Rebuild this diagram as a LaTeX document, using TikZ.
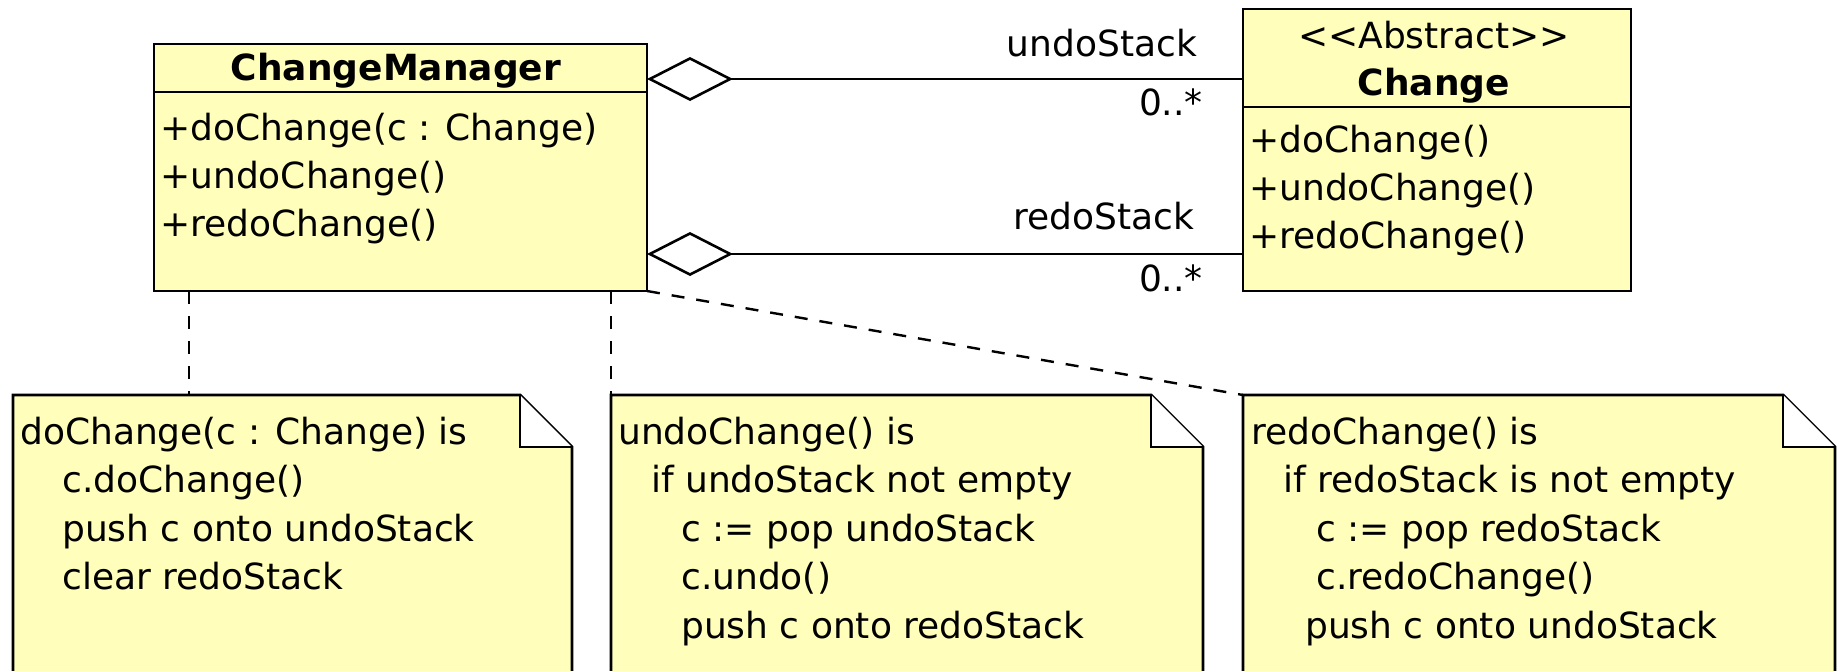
\documentclass[tikz,border=0pt]{standalone}
\usepackage{fontspec}
\setmainfont{DejaVu Sans}
\usetikzlibrary{arrows.meta}
\definecolor{umlyellow}{RGB}{255,255,187}
\tikzset{
  umlbox/.style={draw=black, line width=2.9pt, fill=umlyellow, anchor=north west,
                 inner sep=0pt, outer sep=0pt},
  notearea/.style={anchor=north west, inner sep=0pt, outer sep=0pt},
  notepath/.style={draw=black, fill=umlyellow, line width=2.9pt, line join=miter},
  foldpath/.style={draw=black, fill=white, line width=2.9pt},
  divider/.style={draw=black, line width=2.9pt},
  txt/.style={anchor=base west, inner sep=0pt, font=\fontsize{36}{48}\selectfont},
  ctxt/.style={anchor=base, inner sep=0pt, font=\fontsize{36}{48}\selectfont},
  rtxt/.style={anchor=base east, inner sep=0pt, font=\fontsize{36}{48}\selectfont},
  btxt/.style={anchor=base, inner sep=0pt, font=\fontsize{36}{48}\selectfont\bfseries},
  agg/.style={draw=black, line width=2.6pt,
              {Diamond[open, length=86pt, width=44pt, line width=2.6pt]}-},
  anchorline/.style={draw=black, line width=2.4pt, dash pattern=on 13pt off 12pt},
}
\begin{document}
\begin{tikzpicture}[x=1pt, y=-1pt]
\useasboundingbox (0,0) rectangle (1841,670);

% ---- class ChangeManager ----
\node[umlbox, minimum width=493pt, minimum height=247pt] (cm) at (154,44) {};
\draw[divider] ([yshift=-48pt]cm.north west) -- ([yshift=-48pt]cm.north east);
\node[btxt] (cmname) at (396,80) {ChangeManager};
\node[txt] (cmop1) at (160,140) {+doChange(c : Change)};
\node[txt] (cmop2) at (160,188) {+undoChange()};
\node[txt] (cmop3) at (160,236) {+redoChange()};

% ---- abstract class Change ----
\node[umlbox, minimum width=388pt, minimum height=282pt] (chg) at (1243,9) {};
\draw[divider] ([yshift=-98pt]chg.north west) -- ([yshift=-98pt]chg.north east);
\node[ctxt] (chgst) at (1434,48) {\mbox{<}\mbox{<}Abstract\mbox{>}\mbox{>}};
\node[btxt] (chgname) at (1434,95) {Change};
\node[txt] (chgop1) at (1249,152) {+doChange()};
\node[txt] (chgop2) at (1249,200) {+undoChange()};
\node[txt] (chgop3) at (1249,248) {+redoChange()};

% ---- aggregations ----
\draw[agg] ([yshift=-35pt]cm.north east) coordinate (uA) -- (uA -| chg.west) coordinate (uB);
\draw[agg] ([yshift=37pt]cm.south east) coordinate (rA) -- (rA -| chg.west) coordinate (rB);
\node[rtxt] (undolbl) at (1197,56) {undoStack};
\node[rtxt] (undomul) at (1203,115) {0..*};
\node[rtxt] (redolbl) at (1194,229) {redoStack};
\node[rtxt] (redomul) at (1203,291) {0..*};

% ---- notes ----
\node[notearea, minimum width=559pt, minimum height=300pt] (n1) at (13,395) {};
\node[notearea, minimum width=592pt, minimum height=300pt] (n2) at (611,395) {};
\node[notearea, minimum width=592pt, minimum height=300pt] (n3) at (1243,395) {};
\foreach \n in {n1,n2,n3} {
  \path[notepath] (\n.south west) -- (\n.north west) -- ([xshift=-52pt]\n.north east)
      -- ([yshift=-52pt]\n.north east) -- (\n.south east);
  \path[foldpath] ([xshift=-52pt]\n.north east) -- ([xshift=-52pt,yshift=-52pt]\n.north east)
      -- ([yshift=-52pt]\n.north east);
}

% note texts
\node[txt] (t11) at (20,444) {doChange(c : Change) is};
\node[txt] (t12) at (62,492) {c.doChange()};
\node[txt] (t13) at (62,541) {push c onto undoStack};
\node[txt] (t14) at (62,589) {clear redoStack};

\node[txt] (t21) at (618,444) {undoChange() is};
\node[txt] (t22) at (651,492) {if undoStack not empty};
\node[txt] (t23) at (681,541) {c := pop undoStack};
\node[txt] (t24) at (681,589) {c.undo()};
\node[txt] (t25) at (681,638) {push c onto redoStack};

\node[txt] (t31) at (1251,444) {redoChange() is};
\node[txt] (t32) at (1283,492) {if redoStack is not empty};
\node[txt] (t33) at (1316,541) {c := pop redoStack};
\node[txt] (t34) at (1316,589) {c.redoChange()};
\node[txt] (t35) at (1305,638) {push c onto undoStack};

% ---- note anchors ----
\draw[anchorline] ([xshift=35pt]cm.south west) coordinate (a1) -- (a1 |- n1.north);
\draw[anchorline] (cm.south -| n2.north west) -- (n2.north west);
\draw[anchorline] (cm.south east) -- (n3.north west);
\end{tikzpicture}
\end{document}
